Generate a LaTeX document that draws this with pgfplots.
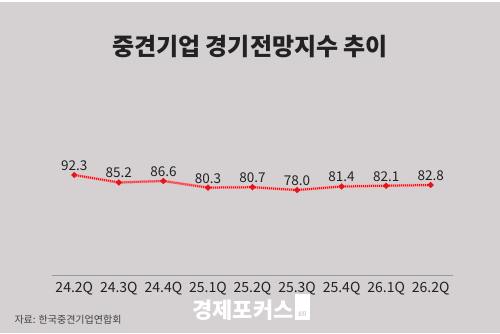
\documentclass[border=0pt]{standalone}
\usepackage{pgfplots}
\pgfplotsset{compat=1.18}
\usepackage{fontspec}
\setmainfont{Noto Sans CJK KR}
\definecolor{bg}{HTML}{D5D1D2}
\definecolor{txt}{HTML}{222222}
\definecolor{ln}{HTML}{E8141B}
\begin{document}
\begin{tikzpicture}[x=1pt,y=1pt]
\fill[bg] (0pt,0pt) rectangle (500pt,333pt);
\path[use as bounding box] (0pt,0pt) rectangle (500pt,333pt);
\fill[white] (0pt,331pt) rectangle (500pt,333pt);
\node[font=\fontsize{24}{26}\selectfont\bfseries, text=txt] at (250pt,286pt) {중견기업 경기전망지수 추이};
\begin{axis}[
  at={(52pt,58pt)}, anchor=south west,
  scale only axis, width=401pt, height=175pt,
  xmin=-0.5, xmax=8.5, ymin=-2.9, ymax=163.7,
  axis x line=bottom, axis y line=none,
  x axis line style={draw=gray!80, line width=0.8pt, -},
  xtick=data, xtick style={draw=none},
  xticklabels={24.2Q,24.3Q,24.4Q,25.1Q,25.2Q,25.3Q,25.4Q,26.1Q,26.2Q},
  xticklabel style={font=\fontsize{14}{16}\selectfont, text=txt, yshift=-1pt},
  clip=false,
  nodes near coords,
  nodes near coords style={font=\fontsize{13.5}{15}\selectfont, text=txt, anchor=south, yshift=0pt},
  point meta=explicit symbolic,
]
\addplot[ln!40, line width=3pt, forget plot] coordinates {
 (0,92.3) (1,85.2) (2,86.6) (3,80.3) (4,80.7) (5,78.0) (6,81.4) (7,82.1) (8,82.8)};
\addplot[ln, line width=2pt, dash pattern=on 1pt off 1pt, mark=*, mark size=1.8pt, mark options={solid, fill=ln, draw=ln}] table[meta=l] {
x y l
0 92.3 92.3
1 85.2 85.2
2 86.6 86.6
3 80.3 80.3
4 80.7 80.7
5 78.0 78.0
6 81.4 81.4
7 82.1 82.1
8 82.8 82.8
};
\end{axis}
\node[anchor=west, font=\fontsize{10}{12}\selectfont, text=black!75] at (11pt,13pt) {자료: 한국중견기업연합회};
\node[font=\fontsize{22}{24}\selectfont\bfseries, text=white] at (243pt,23pt) {경제포커스};
\fill[white] (295pt,13pt) rectangle (310pt,39pt);
\node[font=\fontsize{6}{7}\selectfont\bfseries, text=bg] at (302.5pt,19pt) {Efi};
\end{tikzpicture}
\end{document}
